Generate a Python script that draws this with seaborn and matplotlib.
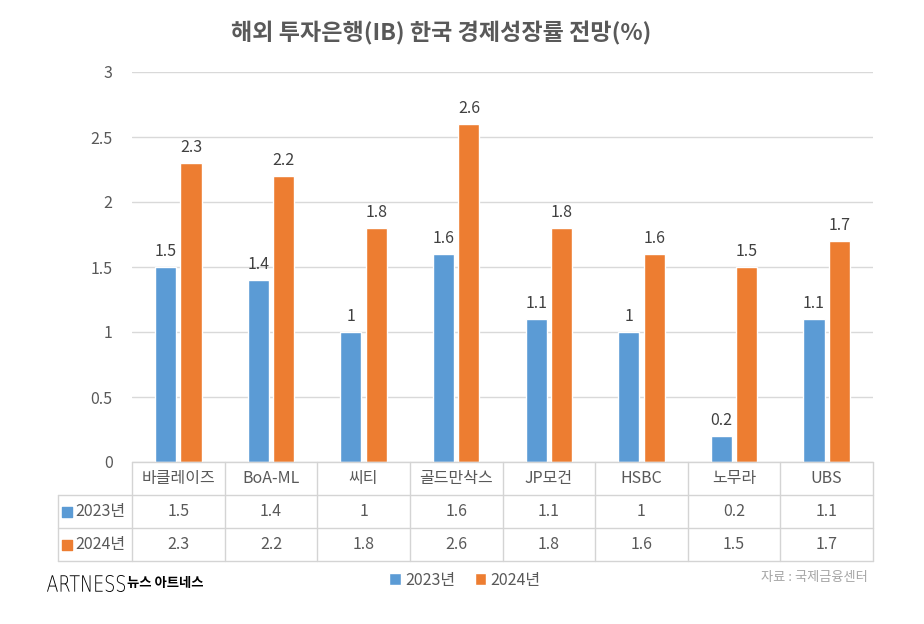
import numpy as np
import pandas as pd
import matplotlib.pyplot as plt
import seaborn as sns
from matplotlib.textpath import TextPath
from matplotlib.patches import PathPatch
from matplotlib.font_manager import FontProperties
from matplotlib.transforms import Affine2D

# ---------------------------------------------------------------------------
# Data
# ---------------------------------------------------------------------------
banks = ['바클레이즈', 'BoA-ML', '씨티', '골드만삭스', 'JP모건', 'HSBC', '노무라', 'UBS']
years = ['2023년', '2024년']
growth_2023 = [1.5, 1.4, 1, 1.6, 1.1, 1, 0.2, 1.1]
growth_2024 = [2.3, 2.2, 1.8, 2.6, 1.8, 1.6, 1.5, 1.7]
y_ticks = [0, 0.5, 1, 1.5, 2, 2.5, 3]

title = '해외 투자은행(IB) 한국 경제성장률 전망(%)'
source = '자료 : 국제금융센터'

colors = ['#5B9BD5', '#ED7D31']
text_gray = '#595959'
grid_gray = '#d9d9d9'

df = pd.DataFrame({
    'bank': banks * 2,
    'year': [years[0]] * len(banks) + [years[1]] * len(banks),
    'value': growth_2023 + growth_2024,
})

# ---------------------------------------------------------------------------
# Figure
# ---------------------------------------------------------------------------
sns.set_theme(style='white')
plt.rcParams['font.family'] = ['Noto Sans CJK KR', 'DejaVu Sans']

W, H = 924, 624
fig = plt.figure(figsize=(W / 100, H / 100), dpi=100)
ax = fig.add_axes([132 / W, 1 - 462 / H, 741 / W, 390 / H])

sns.barplot(data=df, x='bank', y='value', hue='year', order=banks,
            hue_order=years, palette=colors, width=0.55, gap=0.17,
            saturation=1, ax=ax)

for c in ax.containers:
    ax.bar_label(c, fmt='{:g}', padding=5, fontsize=11.5, color='#404040')

ax.set_ylim(0, 3)
ax.set_xlim(-0.5, len(banks) - 0.5)
ax.set_yticks(y_ticks)
ax.set_yticklabels([f'{t:g}' for t in y_ticks])
ax.tick_params(axis='y', length=0, pad=14, labelsize=11.5, labelcolor=text_gray)
ax.set_xticks([])
ax.set_xlabel('')
ax.set_ylabel('')
ax.yaxis.grid(True, color=grid_gray, lw=1)
ax.set_axisbelow(True)
for s in ax.spines.values():
    s.set_visible(False)

handles, labels = ax.get_legend_handles_labels()
ax.get_legend().remove()

# ---------------------------------------------------------------------------
# Data table under the plot (x in data coords, y in axes fraction)
# ---------------------------------------------------------------------------
tr = ax.get_xaxis_transform()
row_h = 33 / 390
label_left = -0.5 - 74 / 92.6
n = len(banks)
line_kw = dict(color='#d4d4d4', lw=1, transform=tr, clip_on=False)

# horizontal lines
ax.plot([-0.5, n - 0.5], [0, 0], **line_kw)
for r in (1, 2, 3):
    ax.plot([label_left, n - 0.5], [-r * row_h] * 2, **line_kw)
# vertical lines
ax.plot([label_left, label_left], [-row_h, -3 * row_h], **line_kw)
for i in range(n + 1):
    ax.plot([i - 0.5, i - 0.5], [0, -3 * row_h], **line_kw)

for i, b in enumerate(banks):
    ax.text(i, -0.5 * row_h, b, transform=tr, ha='center', va='center',
            fontsize=11.5, color=text_gray)
    for r, vals in enumerate((growth_2023, growth_2024)):
        ax.text(i, -(1.5 + r) * row_h, f'{vals[i]:g}', transform=tr,
                ha='center', va='center', fontsize=11.5, color=text_gray)

for r, (yr, col) in enumerate(zip(years, colors)):
    yc = -(1.5 + r) * row_h
    ax.scatter([label_left + 0.1], [yc], marker='s', s=50, color=col,
               transform=tr, clip_on=False)
    ax.text(label_left + 0.19, yc, yr, transform=tr, ha='left', va='center',
            fontsize=11.5, color=text_gray)

# ---------------------------------------------------------------------------
# Title, legend, footer
# ---------------------------------------------------------------------------
fig.text(441 / W, 1 - 33 / H, title, ha='center', va='center',
         fontsize=16.6, fontweight='bold', color=text_gray)

fig.legend(handles, labels, loc='center', bbox_to_anchor=(465 / W, 1 - 580 / H),
           ncol=2, frameon=False, fontsize=11.5, handlelength=0.7,
           handleheight=0.7, handletextpad=0.3, columnspacing=1.2,
           labelcolor=text_gray)

# logo: squeezed thin wordmark + bold Korean name
tp = TextPath((0, 0), 'ARTNESS', size=100,
              prop=FontProperties(family='DejaVu Sans', weight='light'))
ext = tp.get_extents()
sx = 78 / ext.width
sy = 17 / ext.height
logo_tf = (Affine2D().translate(-ext.x0, -ext.y0).scale(sx, sy)
           .translate(47, H - 592))
fig.patches.append(PathPatch(tp, transform=logo_tf, color='black', lw=0))
fig.text(127 / W, 1 - 583 / H, '뉴스 아트네스', ha='left', va='center',
         fontsize=9.6, fontweight='bold', color='black')
fig.text(868 / W, 1 - 578 / H, source, ha='right', va='center',
         fontsize=9.5, color='#a6a6a6')

fig.savefig('out.png', dpi=100, facecolor='white')
